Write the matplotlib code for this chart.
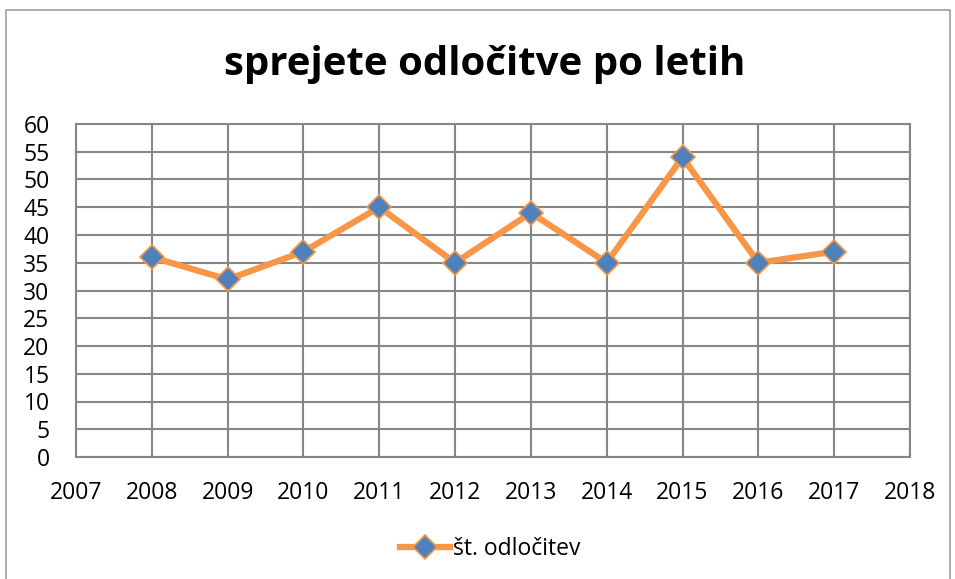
import matplotlib
matplotlib.use("Agg")
import matplotlib.pyplot as plt
from matplotlib.patches import Rectangle

years = [2008, 2009, 2010, 2011, 2012, 2013, 2014, 2015, 2016, 2017]
values = [36, 32, 37, 45, 35, 44, 35, 54, 35, 37]
x_ticks = list(range(2007, 2019))
y_ticks = list(range(0, 61, 5))
title = "sprejete odločitve po letih"
series_name = "št. odločitev"

plt.rcParams['font.family'] = ['Open Sans', 'DejaVu Sans']

fig = plt.figure(figsize=(9.55, 5.79), dpi=100)
fig.patches.append(Rectangle((6/955, -0.1), (950-6)/955, 1 - 10/579 + 0.1,
                             transform=fig.transFigure, fill=False,
                             edgecolor='#a0a0a0', linewidth=1.2))
ax = fig.add_axes([76/955, 1 - 457/579, (910-76)/955, (457-124)/579])
ax.set_xlim(2007, 2018)
ax.set_ylim(0, 60)
ax.set_xticks(x_ticks)
ax.set_yticks(y_ticks)
ax.grid(True, color='#868686', linewidth=1.5)
ax.set_axisbelow(True)
for s in ax.spines.values():
    s.set_color('#868686')
    s.set_linewidth(1.5)
ax.tick_params(length=0, labelsize=16.5)
ax.tick_params(axis='y', pad=19)
ax.tick_params(axis='x', pad=17)
ax.plot(years, values, color='#F79646', linewidth=4.5, marker='D',
        markersize=12.5, markerfacecolor='#4F81BD', markeredgecolor='#F79646',
        markeredgewidth=1.2, label=series_name, clip_on=False, zorder=3)
fig.text(485/955, 1 - 65/579, title, ha='center', va='center',
         fontsize=29, fontweight='bold')
fig.legend(loc='center', bbox_to_anchor=(490/955, 1 - 549/579), frameon=False,
           fontsize=16.5, handlelength=2.2, handletextpad=0.1)
fig.savefig('out.png', dpi=100)
